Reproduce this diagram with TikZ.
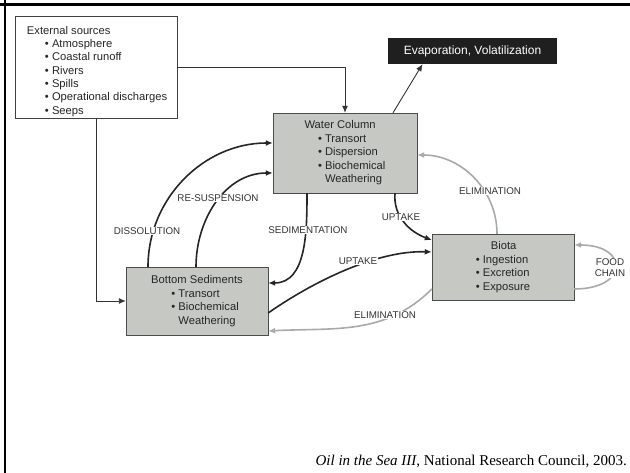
\documentclass[tikz,border=0pt]{standalone}
\usepackage{fontspec}
\setmainfont{Liberation Sans}
\newfontfamily\citefont{Liberation Serif}
\usetikzlibrary{arrows.meta}
\definecolor{box-gray}{RGB}{198,200,196}
\definecolor{line-gray}{RGB}{168,170,168}
\tikzset{
    source-box/.style = {draw=black!75, fill=white, thin, rectangle, inner sep=0pt, text=black!85, font=\fontsize{11.2}{13.35}\selectfont},
    gray-box/.style = {draw=black!70, fill=box-gray, thin, rectangle, inner sep=0pt, align=left, text=black!85, font=\fontsize{11.2}{13.5}\selectfont},
    dark-box/.style = {fill=black!88, text=white, rectangle, minimum width=169pt, minimum height=26pt, inner sep=0pt, font=\fontsize{12}{14}\selectfont},
    flow-label/.style = {fill=white, inner sep=1pt, align=center, text=black!80, font=\fontsize{9.8}{11}\selectfont},
    dark-arrow/.style = {draw=black!85, line width=1.6pt, -{Latex[length=7pt,width=6pt]}},
    light-arrow/.style = {draw=line-gray, line width=1.6pt, -{Latex[length=7pt,width=6pt]}},
    feed-arrow/.style = {draw=black!80, line width=0.9pt, -{Latex[length=7pt,width=6pt]}},
}

\begin{document}
\begin{tikzpicture}[x=1pt, y=-1pt]
\useasboundingbox (0,0) rectangle (630,473);
% slide frame
\fill [black] (0,3.5) rectangle (630,6);
\fill [black] (3.5,0) rectangle (6,473);

\node [source-box] (sources) at (96,67) {\begin{minipage}[c][102pt][t]{162pt}
    \vspace*{10pt}\hspace*{12pt}External sources\\
    \hspace*{30pt}\textbullet\ Atmosphere\\
    \hspace*{30pt}\textbullet\ Coastal runoff\\
    \hspace*{30pt}\textbullet\ Rivers\\
    \hspace*{30pt}\textbullet\ Spills\\
    \hspace*{30pt}\textbullet\ Operational discharges\\
    \hspace*{30pt}\textbullet\ Seeps
\end{minipage}};
\node [dark-box] (evap) at (472.5,51) {Evaporation, Volatilization};
\node [gray-box, minimum width=144pt, minimum height=80pt] (water) at (345,153) {Water Column\\
    \hspace*{1.2em}\textbullet\ Transort\\
    \hspace*{1.2em}\textbullet\ Dispersion\\
    \hspace*{1.2em}\textbullet\ Biochemical\\
    \hspace*{1.2em}\phantom{\textbullet\ }Weathering};
\node [gray-box, minimum width=142pt, minimum height=68pt] (sediments) at (197,301) {Bottom Sediments\\
    \hspace*{1.8em}\textbullet\ Transort\\
    \hspace*{1.8em}\textbullet\ Biochemical\\
    \hspace*{1.8em}\phantom{\textbullet\ }Weathering};
\node [gray-box, minimum width=142pt, minimum height=66pt] (biota) at (503,267) {\hspace*{1.35em}Biota\\
    \textbullet\ Ingestion\\
    \textbullet\ Excretion\\
    \textbullet\ Exposure};

% inputs and losses
\draw [feed-arrow] (sources.east) -| (water.north);
\draw [feed-arrow] (sources.south) |- (sediments.west);
\draw [feed-arrow] ([xshift=48pt]water.north) -- ([xshift=-50pt]evap.south);

% exchanges
\draw [dark-arrow] ([xshift=-49pt]sediments.north) to[out=90, in=180] ([yshift=10pt]water.west);
\draw [dark-arrow] ([xshift=-1pt]sediments.north) to[out=90, in=180] ([yshift=-20pt]water.west);
\draw [dark-arrow] ([xshift=-38pt]water.south) to[out=-90, in=0] ([yshift=18pt]sediments.east);
\draw [dark-arrow] ([xshift=50pt]water.south) to[out=-95, in=160] ([yshift=27pt]biota.west);
\draw [dark-arrow] ([yshift=-12pt]sediments.east) to[out=35, in=178, looseness=0.8] ([yshift=15pt]biota.west);
\draw [light-arrow] ([xshift=-6pt]biota.north) to[out=90, in=0] ([yshift=-2pt]water.east);
\draw [light-arrow] ([yshift=-22pt]biota.west) to[out=225, in=3] ([yshift=-30pt]sediments.east);
\draw [light-arrow] ([yshift=-22pt]biota.east) to[out=0, in=0, looseness=3.2] ([yshift=22pt]biota.east);

\node [flow-label] (dissolution) at (147,231) {DISSOLUTION};
\node [flow-label] (resuspension) at (218,198) {RE-SUSPENSION};
\node [flow-label] (sedimentation) at (308,230) {SEDIMENTATION};
\node [flow-label] (uptake-water) at (401,217) {UPTAKE};
\node [flow-label] (uptake-sediments) at (358,261) {UPTAKE};
\node [flow-label] (elimination-water) at (490,191) {ELIMINATION};
\node [flow-label] (elimination-sediments) at (385,315) {ELIMINATION};
\node [flow-label] (food-chain) at (610,268) {FOOD\\CHAIN};

\node [anchor=base east, inner sep=0pt, font=\citefont\fontsize{15}{17}\selectfont] (citation) at (627,465) {\textit{Oil in the Sea III}, National Research Council, 2003.};
\end{tikzpicture}
\end{document}
